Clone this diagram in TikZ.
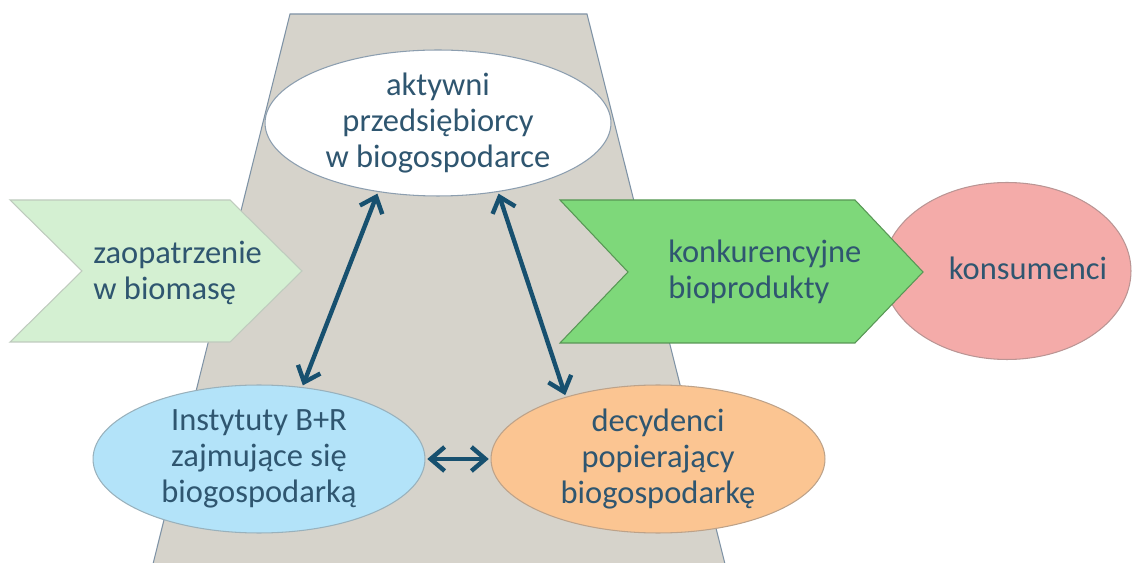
\documentclass[tikz,border=0pt]{standalone}
\usepackage{fontspec}
\setmainfont{Carlito}
\usetikzlibrary{shapes.geometric,arrows.meta}
\definecolor{tekst}{HTML}{2F5670}
\definecolor{strzalka}{HTML}{17506F}
\definecolor{tlo}{HTML}{D6D3CB}
\definecolor{tloram}{HTML}{7F93A6}
\definecolor{jasnaziel}{HTML}{D4F0D2}
\definecolor{ziel}{HTML}{7ED87A}
\definecolor{roz}{HTML}{F4ABA9}
\definecolor{nieb}{HTML}{B3E3F9}
\definecolor{pom}{HTML}{FBC592}
\tikzset{every node/.style={text=tekst,font=\fontsize{18.5}{20.5}\selectfont,align=center,inner sep=0pt}}
\tikzset{elipsa/.style={ellipse,line width=0.6pt},
  dwa/.style={strzalka,line width=2.5pt,{Straight Barb[length=2.8mm,width=4.8mm]}-{Straight Barb[length=2.8mm,width=4.8mm]},shorten <=1pt,shorten >=1pt}}

\begin{document}
\begin{tikzpicture}[x=0.02cm,y=-0.02cm]
      \useasboundingbox (0,0) rectangle (1132,563);
      % tlo
      \filldraw[fill=tlo,draw=tloram,line width=0.6pt] (290,14) -- (587,14) -- (727,572) -- (151,572) -- cycle;
      % strzalki-ksztalty
      \filldraw[fill=jasnaziel,draw=jasnaziel!70!black!60,line width=0.6pt]
        (10,200) -- (230,200) -- (302,271) -- (230,342) -- (10,342) -- (82,271) -- cycle;
      \node[anchor=west,align=left] (zao) at (93,273) {zaopatrzenie\\w biomasę};
      \node[elipsa,fill=white,draw=tloram!90,minimum width=6.92cm,minimum height=2.92cm,
        label={center:aktywni\\przedsiębiorcy\\w biogospodarce}] (akt) at (438,123) {};
      \node[elipsa,fill=roz,draw=roz!50!gray,minimum width=4.96cm,minimum height=3.54cm] (kons) at (1007,271) {};
      \node (konsT) at (1028,268) {konsumenci};
      \filldraw[fill=ziel,draw=ziel!70!black,line width=0.6pt]
        (560,200) -- (855,200) -- (923,272) -- (855,343) -- (560,343) -- (628,272) -- cycle;
      \node[anchor=west,align=left] (bio) at (668,272) {konkurencyjne\\bioprodukty};
      \node[elipsa,fill=nieb,draw=nieb!50!gray,minimum width=6.64cm,minimum height=2.96cm,
        label={center:Instytuty B+R\\zajmujące się\\biogospodarką}] (inst) at (259,459) {};
      \node[elipsa,fill=pom,draw=pom!50!gray,minimum width=6.68cm,minimum height=2.96cm,
        label={center:decydenci\\popierający\\biogospodarkę}] (dec) at (658,459) {};

\foreach \a/\b in {akt.229/inst.59,akt.311/dec.146,inst.east/dec.west}
  \draw[dwa] (\a) -- (\b);
    \end{tikzpicture}
\end{document}
